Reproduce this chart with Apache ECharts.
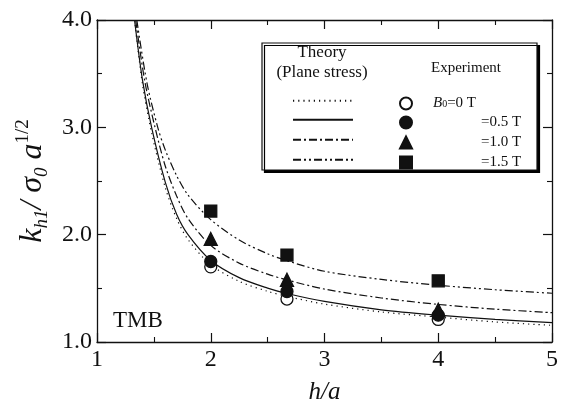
<!DOCTYPE html>
<html>
<head>
<meta charset="utf-8">
<script src="https://cdn.jsdelivr.net/npm/echarts@6/dist/echarts.min.js"></script>
<style>
html,body{margin:0;padding:0;background:#fff;overflow:hidden;}
#c{width:561px;height:410px;}
</style>
</head>
<body>
<div id="c"></div>
<script>
// ---- data ----
const xTicks = [1, 2, 3, 4, 5];
const yTicks = [1.0, 2.0, 3.0, 4.0];

// theory curves (plane stress), read as [h/a, value]
const theory0T  = [[1.33,4.0],[1.4,3.40],[1.48,2.95],[1.6,2.44],[1.7,2.15],[1.8,1.955],[2.0,1.72],[2.25,1.565],[2.5,1.472],[2.67,1.425],[3.0,1.353],[3.5,1.28],[4.0,1.232],[4.5,1.187],[5.0,1.155]];
const theory05T = [[1.33,4.0],[1.4,3.44],[1.48,3.0],[1.6,2.49],[1.7,2.19],[1.8,2.0],[2.0,1.76],[2.25,1.60],[2.5,1.502],[2.67,1.452],[3.0,1.378],[3.5,1.30],[4.0,1.25],[4.5,1.21],[5.0,1.18]];
const theory10T = [[1.34,4.0],[1.42,3.43],[1.51,3.0],[1.6,2.64],[1.7,2.36],[1.8,2.15],[2.0,1.90],[2.25,1.735],[2.5,1.632],[2.67,1.578],[3.0,1.493],[3.5,1.41],[4.0,1.35],[4.5,1.306],[5.0,1.273]];
const theory15T = [[1.35,4.0],[1.44,3.41],[1.534,3.0],[1.6,2.79],[1.7,2.55],[1.8,2.37],[2.0,2.14],[2.25,1.95],[2.5,1.822],[2.67,1.757],[3.0,1.659],[3.5,1.583],[4.0,1.529],[4.5,1.487],[5.0,1.454]];

// experiment
const exp0T  = [[2,1.70],[2.67,1.40],[4,1.21]];
const exp05T = [[2,1.75],[2.67,1.47],[4,1.25]];
const exp10T = [[2,1.96],[2.67,1.58],[4,1.30]];
const exp15T = [[2,2.22],[2.67,1.81],[4,1.57]];

const theoryNames = ['Theory 0 T','Theory 0.5 T','Theory 1.0 T','Theory 1.5 T'];
const expNames = ['B0=0 T','=0.5 T','=1.0 T','=1.5 T'];

const serif = '"Liberation Serif","DejaVu Serif",serif';
const ink = '#111';

const chart = echarts.init(document.getElementById('c'), null, {renderer:'canvas'});

function lineSeries(name, data, dash){
  return {
    type:'line', name:name, data:data, smooth:0.3,
    symbol:'none', clip:true, z:3, color:ink,
    itemStyle:{color:ink},
    lineStyle:{color:ink, width:1.2, type:dash}
  };
}
function scatterSeries(name, data, symbol, fill, size){
  return {
    type:'scatter', name:name, data:data, symbol:symbol, symbolSize:size, z:5,
    itemStyle:{color:fill, borderColor:ink, borderWidth:1.3, opacity:1}
  };
}

const axisCommon = {
  type:'value',
  axisLine:{show:true, onZero:false, lineStyle:{color:ink, width:1.3}},
  axisTick:{show:true, inside:true, length:9, lineStyle:{color:ink, width:1.2}},
  minorTick:{show:true, splitNumber:2, length:5, lineStyle:{color:ink, width:1.1}},
  splitLine:{show:false}
};

// legend rows (one legend component per row so both columns line up)
const legendRowsY = [102, 121, 141, 161];
const legends = [];
theoryNames.forEach((n, i) => {
  legends.push({
    data:[n], left:292, top:legendRowsY[i] - 6, padding:0,
    itemWidth:60, itemHeight:12, selectedMode:false,
    formatter:() => '', textStyle:{fontSize:10, lineHeight:12},
    itemStyle:{opacity:0}
  });
});
expNames.forEach((n, i) => {
  legends.push({
    data:[n], left:399, top:legendRowsY[i] - 6, padding:0,
    itemWidth:12, itemHeight:12, selectedMode:false,
    formatter:name => name === expNames[0] ? '{b|B}{s|0}{n|=0 T}' : '{m|' + name + '}',
    textStyle:{
      color:ink, fontFamily:serif, fontSize:15, lineHeight:12,
      rich:{
        b:{fontFamily:serif, fontStyle:'italic', fontSize:15, color:ink, padding:[0,0,0,16], lineHeight:12},
        s:{fontFamily:serif, fontSize:10, color:ink, lineHeight:8, verticalAlign:'bottom'},
        n:{fontFamily:serif, fontSize:15, color:ink, lineHeight:12},
        m:{fontFamily:serif, fontSize:15, color:ink, lineHeight:12, padding:[0,0,0,64]}
      }
    }
  });
});

const option = {
  backgroundColor:'#fff',
  animation:false,
  grid:{left:97, right:7, top:20, bottom:58},
  xAxis:[
    Object.assign({}, axisCommon, {
      min:xTicks[0], max:xTicks[xTicks.length-1], interval:1, position:'bottom',
      name:'h/a', nameLocation:'middle', nameGap:38,
      nameTextStyle:{fontFamily:serif, fontStyle:'italic', fontSize:25, color:ink},
      axisLabel:{fontFamily:serif, fontSize:24, color:ink, margin:6,
        formatter:v => xTicks.indexOf(v) >= 0 ? String(v) : ''}
    }),
    Object.assign({}, axisCommon, {
      min:xTicks[0], max:xTicks[xTicks.length-1], interval:1, position:'top',
      axisLabel:{show:false}
    })
  ],
  yAxis:[
    Object.assign({}, axisCommon, {
      min:yTicks[0], max:yTicks[yTicks.length-1], interval:1, position:'left',
      name:'{k|k}{sb|h1}{t|/ }{k|σ}{sb|0}{k| a}{sp|1/2}',
      nameLocation:'middle', nameGap:42, nameRotate:90,
      nameTextStyle:{
        rich:{
          k:{fontFamily:serif, fontStyle:'italic', fontSize:32, color:ink, lineHeight:38, verticalAlign:'middle'},
          t:{fontFamily:serif, fontStyle:'italic', fontSize:32, color:ink, lineHeight:38, verticalAlign:'middle'},
          sb:{fontFamily:serif, fontStyle:'italic', fontSize:19, color:ink, lineHeight:17, verticalAlign:'bottom'},
          sp:{fontFamily:serif, fontSize:19, color:ink, lineHeight:17, verticalAlign:'top'}
        }
      },
      axisLabel:{fontFamily:serif, fontSize:24, color:ink, margin:5,
        formatter:v => yTicks.indexOf(v) >= 0 ? v.toFixed(1) : ''}
    }),
    Object.assign({}, axisCommon, {
      min:yTicks[0], max:yTicks[yTicks.length-1], interval:1, position:'right',
      axisLabel:{show:false}
    })
  ],
  legend:legends,
  graphic:[
    {type:'rect', z:1, shape:{x:262, y:43, width:275, height:127},
      style:{fill:'#fff', stroke:ink, lineWidth:1.2, shadowOffsetX:2.5, shadowOffsetY:2.5, shadowColor:'#000', shadowBlur:0}},
    {type:'text', z:10, x:322, y:53,
      style:{text:'Theory', font:'17px ' + serif, fill:ink, textAlign:'center', textVerticalAlign:'middle'}},
    {type:'text', z:10, x:322, y:73,
      style:{text:'(Plane stress)', font:'17px ' + serif, fill:ink, textAlign:'center', textVerticalAlign:'middle'}},
    {type:'text', z:10, x:466, y:68,
      style:{text:'Experiment', font:'15px ' + serif, fill:ink, textAlign:'center', textVerticalAlign:'middle'}},
    {type:'text', z:10, x:113, y:321,
      style:{text:'TMB', font:'23px ' + serif, fill:ink, textAlign:'left', textVerticalAlign:'middle'}}
  ],
  series:[
    lineSeries(theoryNames[0], theory0T, [1.2,4]),
    lineSeries(theoryNames[1], theory05T, 'solid'),
    lineSeries(theoryNames[2], theory10T, [8,3,2,3]),
    lineSeries(theoryNames[3], theory15T, [8,3,2,3,2,3]),
    scatterSeries(expNames[0], exp0T, 'circle', '#fff', 12),
    scatterSeries(expNames[1], exp05T, 'circle', ink, 12),
    scatterSeries(expNames[2], exp10T, 'triangle', ink, 13),
    scatterSeries(expNames[3], exp15T, 'rect', ink, 12)
  ]
};
chart.setOption(option);
</script>
</body>
</html>
